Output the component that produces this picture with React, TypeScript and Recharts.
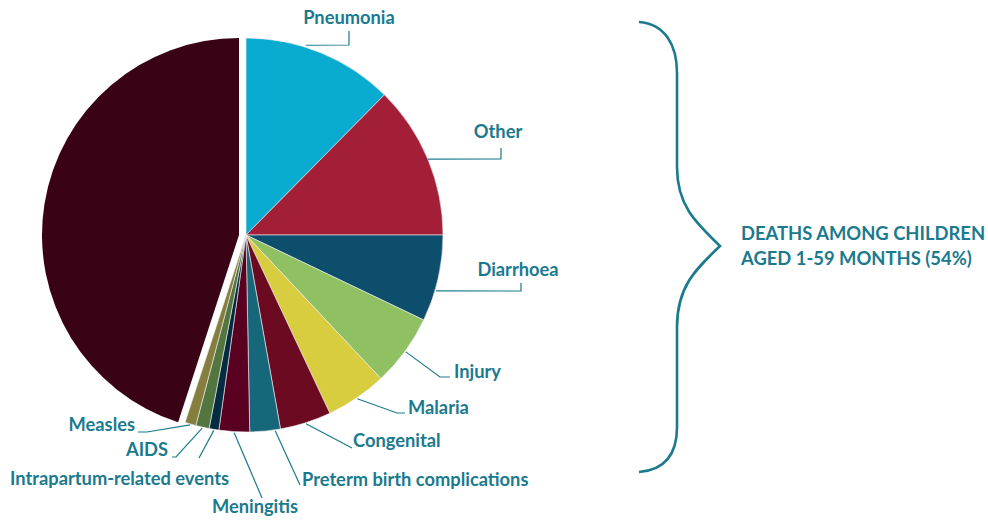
import React from 'react';
import { PieChart, Pie, Cell, Customized } from 'recharts';

const categories = [
  'Pneumonia',
  'Other',
  'Diarrhoea',
  'Injury',
  'Malaria',
  'Congenital',
  'Preterm birth complications',
  'Meningitis',
  'Intrapartum-related events',
  'AIDS',
  'Measles',
  'Neonatal deaths',
];
const shares = [12.4, 12.6, 7.1, 5.9, 5.0, 4.2, 2.5, 2.5, 0.8, 1.1, 0.9, 45.0];
const colors = [
  '#09acd0',
  '#a31f37',
  '#0e4e6d',
  '#8fc163',
  '#d8cc3f',
  '#6c0a22',
  '#17677b',
  '#5a0020',
  '#032c42',
  '#53753f',
  '#857f3f',
  '#3a0315',
];
const neonatalTitle = 'NEONATAL DEATHS,';
const neonatalValue = '46%';
const bracketLines = ['DEATHS AMONG CHILDREN', 'AGED 1-59 MONTHS (54%)'];

const data = categories.map((name, i) => ({ name, value: shares[i] }));
const NEONATAL = categories.length - 1;

const TEAL = '#1b7a8e';
const FONT = 'Lato, "Open Sans", sans-serif';

// label leader layout, relative to pie centre; shift = clockwise degrees from slice mid angle
type LL = { shift: number; r: number; pts: [number, number][]; tx: number; ty: number; anchor: 'start' | 'middle' | 'end' };
const labelLayout: LL[] = [
  { shift: -4.8, r: 2, pts: [[103, -190], [103, -204]], tx: 103, ty: -211, anchor: 'middle' },
  { shift: 0, r: 0, pts: [[255, -76], [255, -87]], tx: 252, ty: -97, anchor: 'middle' },
  { shift: 3.6, r: 1, pts: [[275, 56], [275, 48]], tx: 272, ty: 41, anchor: 'middle' },
  { shift: 0, r: 1, pts: [[194, 142], [204, 142]], tx: 208, ty: 143, anchor: 'start' },
  { shift: 0, r: 1, pts: [[151, 178], [159, 178]], tx: 162, ty: 179, anchor: 'start' },
  { shift: 0, r: 1, pts: [[106, 213]], tx: 107, ty: 212, anchor: 'start' },
  { shift: -2.9, r: 1, pts: [[54, 250]], tx: 56, ty: 251, anchor: 'start' },
  { shift: 0, r: 1, pts: [[16, 263]], tx: 9, ty: 278, anchor: 'middle' },
  { shift: 0, r: 1, pts: [[-47, 223]], tx: -17, ty: 250, anchor: 'end' },
  { shift: 0, r: 1, pts: [[-70, 222], [-74, 222]], tx: -78, ty: 221, anchor: 'end' },
  { shift: 0, r: 1, pts: [[-99, 197], [-108, 197]], tx: -111, ty: 196, anchor: 'end' },
];

const renderLabel = (props: any) => {
  const { cx, cy, midAngle, outerRadius, index } = props;
  const L = labelLayout[index];
  if (!L) return null;
  const cw = ((90 - midAngle + L.shift) * Math.PI) / 180;
  const r = outerRadius + L.r;
  const sx = cx + r * Math.sin(cw);
  const sy = cy - r * Math.cos(cw);
  const pts = [[sx, sy], ...L.pts.map(([dx, dy]) => [cx + dx, cy + dy])];
  return (
    <g key={`lbl-${index}`}>
      <polyline
        points={pts.map((p) => p.join(',')).join(' ')}
        fill="none"
        stroke={TEAL}
        strokeWidth={1.2}
      />
      <text
        x={cx + L.tx}
        y={cy + L.ty}
        textAnchor={L.anchor}
        fill={TEAL}
        fontFamily={FONT}
        fontWeight={700}
        fontSize={18.3}
      >
        {categories[index]}
      </text>
    </g>
  );
};

const Overlay = () => (
  <g>
    <path
      d="M639,22 C665,24 677,45 677,73 L677,167 C677,205 695,222 720,246 C695,270 677,287 677,327 L677,427 C677,455 665,470 639,472"
      fill="none"
      stroke={TEAL}
      strokeWidth={2.6}
    />
    {bracketLines.map((t, i) => (
      <text
        key={t}
        x={741}
        y={240 + i * 25}
        fill={TEAL}
        fontFamily={FONT}
        fontWeight={700}
        fontSize={18.4}
      >
        {t}
      </text>
    ))}
    <text x={146} y={227} textAnchor="middle" fill="#ffffff" fontFamily={FONT} fontWeight={600} fontSize={16}>
      {neonatalTitle}
    </text>
    <text x={146} y={273} textAnchor="middle" fill="#ffffff" fontFamily={FONT} fontWeight={600} fontSize={32}>
      {neonatalValue}
    </text>
  </g>
);

export default function App() {
  return (
    <div style={{ position: 'absolute', left: 0, top: 0, width: 988, height: 520, background: '#ffffff' }}>
      <PieChart width={988} height={520} margin={{ top: 0, right: 0, bottom: 0, left: 0 }}>
        <Pie
          data={data}
          dataKey="value"
          nameKey="name"
          cx={246}
          cy={235}
          outerRadius={197}
          startAngle={90}
          endAngle={-270}
          isAnimationActive={false}
          label={renderLabel}
          labelLine={false}
        >
          {data.map((d, i) => (
            <Cell
              key={d.name}
              fill={i === NEONATAL ? 'none' : colors[i]}
              stroke={i === NEONATAL ? 'none' : '#f3eef0'}
              strokeWidth={0.6}
            />
          ))}
        </Pie>
        <Pie
          data={data}
          dataKey="value"
          nameKey="name"
          cx={239}
          cy={235}
          outerRadius={197}
          startAngle={90}
          endAngle={-270}
          isAnimationActive={false}
          label={false}
          labelLine={false}
        >
          {data.map((d, i) => (
            <Cell
              key={d.name}
              fill={i === NEONATAL ? colors[i] : 'none'}
              stroke="none"
            />
          ))}
        </Pie>
        <Customized component={Overlay} />
      </PieChart>
    </div>
  );
}
